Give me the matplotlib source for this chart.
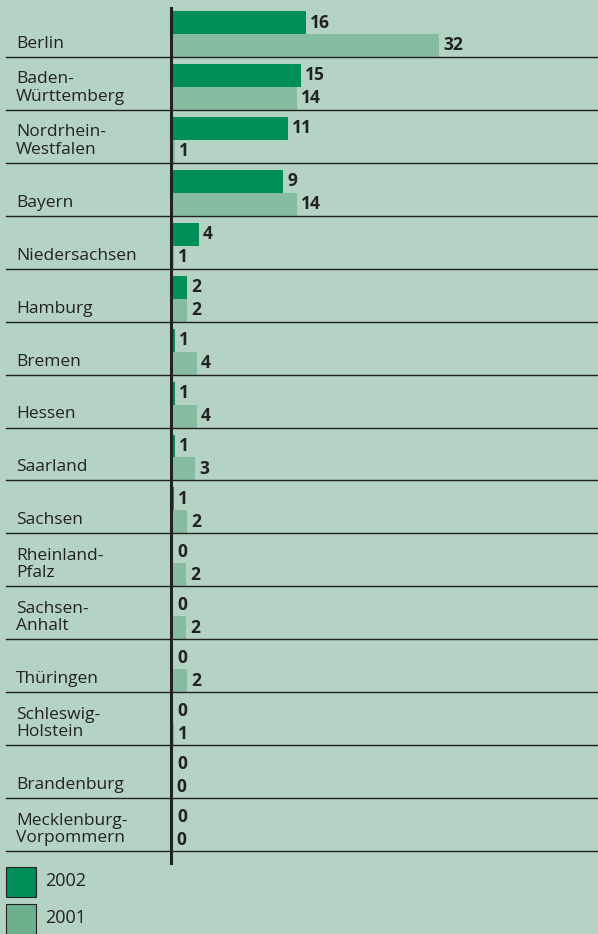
import matplotlib
matplotlib.use("Agg")
import matplotlib.pyplot as plt
from matplotlib.patches import Rectangle
from matplotlib.transforms import blended_transform_factory

states = ["Berlin", "Baden-\nWürttemberg", "Nordrhein-\nWestfalen", "Bayern",
          "Niedersachsen", "Hamburg", "Bremen", "Hessen", "Saarland", "Sachsen",
          "Rheinland-\nPfalz", "Sachsen-\nAnhalt", "Thüringen", "Schleswig-\nHolstein",
          "Brandenburg", "Mecklenburg-\nVorpommern"]
# printed values
lab2002 = [16, 15, 11, 9, 4, 2, 1, 1, 1, 1, 0, 0, 0, 0, 0, 0]
lab2001 = [32, 14, 1, 14, 1, 2, 4, 4, 3, 2, 2, 2, 2, 1, 0, 0]
# bar lengths as drawn in the original (not quite proportional to the labels)
len2002 = [16, 15.4, 13.9, 13.3, 3.2, 1.8, 0.35, 0.35, 0.35, 0.25,
           0.15, 0.15, 0.15, 0.15, 0.15, 0.15]
len2001 = [32, 15.0, 0.35, 15.0, 0.25, 1.8, 3.0, 3.0, 2.75, 1.8,
           1.7, 1.7, 1.8, 0.25, 0, 0]
years = ["2002", "2001"]

BG = "#b5d3c2"
DARK = "#009057"
LIGHT = "#86bda1"
LEG_LIGHT = "#6db08e"
INK = "#222222"
FONT = "Open Sans"

W, H = 598, 934
fig = plt.figure(figsize=(W / 100, H / 100), dpi=100, facecolor=BG)

# bar area in pixels: x 172..598, y 4..851
ax_l, ax_r, ax_t, ax_b = 172, 598, 4, 851
ax = fig.add_axes([ax_l / W, 1 - ax_b / H, (ax_r - ax_l) / W, (ax_b - ax_t) / H])
ax.set_facecolor(BG)
px_per_unit = 8.35
ax.set_xlim(0, (ax_r - ax_l) / px_per_unit)
n = len(states)
ax.set_ylim(n, 0)
ax.axis("off")

row_px = (ax_b - ax_t) / n
bar_h = 23 / row_px
off1 = 7 / row_px
off2 = off1 + bar_h

rows = list(range(n))
ax.barh([r + off1 for r in rows], len2002, height=bar_h, align="edge",
        color=DARK, linewidth=0)
ax.barh([r + off2 for r in rows], len2001, height=bar_h, align="edge",
        color=LIGHT, linewidth=0)

for r in rows:
    ax.annotate(str(lab2002[r]), (len2002[r], r + off1 + bar_h / 2), xytext=(3, 0),
                textcoords="offset points", va="center", ha="left",
                fontsize=12.5, fontweight="bold", color=INK, family=FONT)
    ax.annotate(str(lab2001[r]), (len2001[r], r + off2 + bar_h / 2), xytext=(3, 0),
                textcoords="offset points", va="center", ha="left",
                fontsize=12.5, fontweight="bold", color=INK, family=FONT)

# row separators and labels
tr = blended_transform_factory(fig.transFigure, ax.transData)
for r in rows:
    ax.plot([6 / W, 1], [r + 1, r + 1], color=INK, lw=1.0, transform=tr, clip_on=False)
    ax.text(16 / W, r + 1 - 5 / row_px, states[r], transform=tr, ha="left", va="bottom",
            fontsize=12.5, color=INK, family=FONT, linespacing=1.12)

# vertical axis line
fig.add_artist(plt.Line2D([171 / W, 171 / W], [1 - 8 / H, 1 - 863 / H],
                          color=INK, lw=2.2, transform=fig.transFigure))

# legend
for i, (yr, col) in enumerate(zip(years, [DARK, LEG_LIGHT])):
    y0 = 867 + i * 37
    fig.add_artist(Rectangle((6 / W, 1 - (y0 + 30) / H), 30 / W, 30 / H,
                             facecolor=col, edgecolor=INK, lw=0.8,
                             transform=fig.transFigure))
    fig.text(45 / W, 1 - (y0 + 14) / H, yr, ha="left", va="center",
             fontsize=13, color=INK, family=FONT)

fig.savefig("out.png", dpi=100, facecolor=BG)
